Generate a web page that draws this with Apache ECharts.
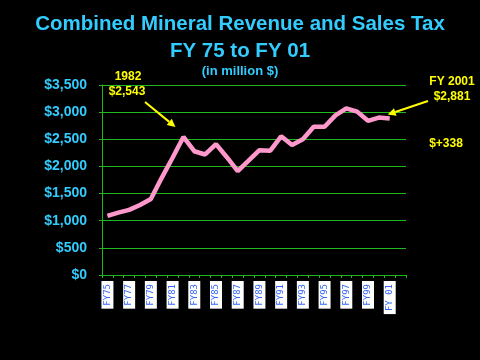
<!DOCTYPE html>
<html><head><meta charset="utf-8">
<script src="https://cdn.jsdelivr.net/npm/echarts@6/dist/echarts.min.js"></script>
<style>html,body{margin:0;padding:0;background:#000;}#c{width:480px;height:360px;}</style>
</head><body><div id="c"></div>
<script>
var categories = ["FY75","FY76","FY77","FY78","FY79","FY80","FY81","FY82","FY83","FY84","FY85","FY86","FY87","FY88","FY89","FY90","FY91","FY92","FY93","FY94","FY95","FY96","FY97","FY98","FY99","FY00","FY 01",""];
var revenue = [1090,1150,1200,1290,1400,1790,2160,2543,2280,2220,2410,2170,1915,2105,2300,2290,2555,2395,2500,2730,2730,2940,3070,3010,2840,2900,2881];
var yTicks = {min:0, max:3500, interval:500};
var titleLines = ["Combined Mineral Revenue and Sales Tax","FY 75 to FY 01","(in million $)"];

var chart = echarts.init(document.getElementById('c'), null, {renderer:'canvas'});
var cyan = '#33CCFF', green = '#1FB81F', yellow = '#FFFF00';
chart.setOption({
  backgroundColor:'#000',
  animation:false,
  grid:{left:102,right:74,top:85,bottom:85},
  xAxis:{type:'category',data:categories,boundaryGap:true,
    axisLine:{lineStyle:{color:green,width:1}},
    axisTick:{show:true,length:3,interval:0,lineStyle:{color:green}},
    axisLabel:{interval:1,rotate:90,margin:6,color:'#3366FF',fontFamily:'DejaVu Sans Mono',fontSize:9,
      backgroundColor:'#fff',padding:[1,3,1,3],lineHeight:10},
    splitLine:{show:false}},
  yAxis:{type:'value',min:yTicks.min,max:yTicks.max,interval:yTicks.interval,
    axisLine:{show:true,lineStyle:{color:green}},
    axisTick:{show:true,length:3,lineStyle:{color:green}},
    axisLabel:{color:cyan,fontFamily:'Liberation Sans',fontWeight:'bold',fontSize:14,margin:15,
      formatter:function(v){return '$'+v.toLocaleString('en-US');}},
    splitLine:{show:true,lineStyle:{color:green,width:1}}},
  series:[{type:'line',data:revenue,symbol:'none',lineStyle:{color:'#FF99CC',width:4.5},z:3}]
});

function arrow(x1,y1,x2,y2){
  var a=Math.atan2(y2-y1,x2-x1), L=8, W=4;
  var bx=x2-L*Math.cos(a), by=y2-L*Math.sin(a);
  return [
    {type:'line',shape:{x1:x1,y1:y1,x2:bx,y2:by},style:{stroke:yellow,lineWidth:2}},
    {type:'polygon',shape:{points:[[x2,y2],[bx+W*Math.sin(a),by-W*Math.cos(a)],[bx-W*Math.sin(a),by+W*Math.cos(a)]]},style:{fill:yellow}}
  ];
}
var pk = chart.convertToPixel({seriesIndex:0},[7,revenue[7]]);
var last = chart.convertToPixel({seriesIndex:0},[26,revenue[26]]);
var tf = 'Liberation Sans';
var g = [
  {type:'text',left:'center',top:14,style:{text:titleLines[0],fill:cyan,font:'bold 20.5px '+tf}},
  {type:'text',left:'center',top:41,style:{text:titleLines[1],fill:cyan,font:'bold 20.5px '+tf}},
  {type:'text',left:'center',top:65,style:{text:titleLines[2],fill:cyan,font:'bold 13px '+tf}},
  {type:'text',x:128,y:77,style:{text:'1982',fill:yellow,font:'bold 12px '+tf,align:'center',verticalAlign:'middle'}},
  {type:'text',x:127,y:92,style:{text:'$2,'+'543',fill:yellow,font:'bold 12px '+tf,align:'center',verticalAlign:'middle'}},
  {type:'text',x:452,y:82,style:{text:'FY 2001',fill:yellow,font:'bold 12px '+tf,align:'center',verticalAlign:'middle'}},
  {type:'text',x:452,y:97,style:{text:'$2,881',fill:yellow,font:'bold 12px '+tf,align:'center',verticalAlign:'middle'}},
  {type:'text',x:446,y:144,style:{text:'$+338',fill:yellow,font:'bold 12px '+tf,align:'center',verticalAlign:'middle'}}
];
g = g.concat(arrow(145,102,pk[0]-8,pk[1]-10));
g = g.concat(arrow(428,101,last[0]-2,last[1]-4));
chart.setOption({graphic:g});
</script></body></html>
